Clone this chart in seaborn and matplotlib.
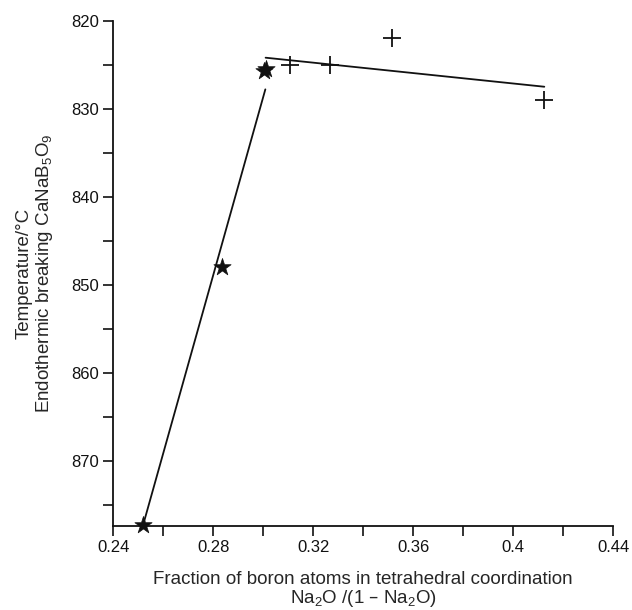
import numpy as np
import pandas as pd
import matplotlib
matplotlib.use('Agg')
import matplotlib.pyplot as plt
import seaborn as sns

# star points (steep branch)
star_x = [0.252, 0.2836, 0.3005, 0.3010]
star_y = [877.3, 848.0, 825.7, 825.5]
# plus points (flat branch)
plus_x = [0.3108, 0.3268, 0.3516, 0.4125]
plus_y = [825.0, 825.0, 822.0, 829.0]
# fitted lines (end points)
fit1_x = [0.252, 0.3009]
fit1_y = [877.3, 827.8]
fit2_x = [0.3010, 0.4125]
fit2_y = [824.2, 827.5]

x_ticks = [0.24, 0.26, 0.28, 0.30, 0.32, 0.34, 0.36, 0.38, 0.40, 0.42, 0.44]
x_labels = ['0.24', '', '0.28', '', '0.32', '', '0.36', '', '0.4', '', '0.44']
y_ticks = [820, 825, 830, 835, 840, 845, 850, 855, 860, 865, 870, 875]
y_labels = ['820', '', '830', '', '840', '', '850', '', '860', '', '870', '']

sns.set_style('ticks')
plt.rcParams['font.family'] = ['Liberation Sans', 'DejaVu Sans']
plt.rcParams['mathtext.default'] = 'regular'

fig = plt.figure(figsize=(6.32, 6.10), dpi=100)
ax = fig.add_axes([0.179, 0.138, 0.791, 0.828])

stars = pd.DataFrame({'x': star_x, 'y': star_y})
plus = pd.DataFrame({'x': plus_x, 'y': plus_y})
sns.lineplot(x=fit1_x, y=fit1_y, ax=ax, color='#111111', lw=1.3)
sns.lineplot(x=fit2_x, y=fit2_y, ax=ax, color='#111111', lw=1.3)
sns.scatterplot(data=stars, x='x', y='y', ax=ax, marker='*', s=170, color='#111111',
                edgecolor='#111111', linewidth=0.5, clip_on=False, zorder=5)
sns.scatterplot(data=plus, x='x', y='y', ax=ax, marker='+', s=170, color='#111111',
                linewidth=1.3, clip_on=False, zorder=5)

ax.set_xlim(0.24, 0.44)
ax.set_ylim(877.4, 820)
ax.set_xticks(x_ticks)
ax.set_xticklabels(x_labels)
ax.set_yticks(y_ticks)
ax.set_yticklabels(y_labels)
ax.tick_params(length=7, width=1.2, pad=3, labelsize=12, colors='#111111')

for s in ['top', 'right']:
    ax.spines[s].set_visible(False)
for s in ['left', 'bottom']:
    ax.spines[s].set_linewidth(1.3)
    ax.spines[s].set_color('#111111')

ax.set_xlabel('Fraction of boron atoms in tetrahedral coordination\nNa$_2$O /(1 – Na$_2$O)',
              fontsize=13.5, linespacing=1.0, labelpad=12)
ax.set_ylabel('Temperature/°C\nEndothermic breaking CaNaB$_5$O$_9$',
              fontsize=13.5, linespacing=1.05, labelpad=12)

fig.savefig('out.png', dpi=100)
